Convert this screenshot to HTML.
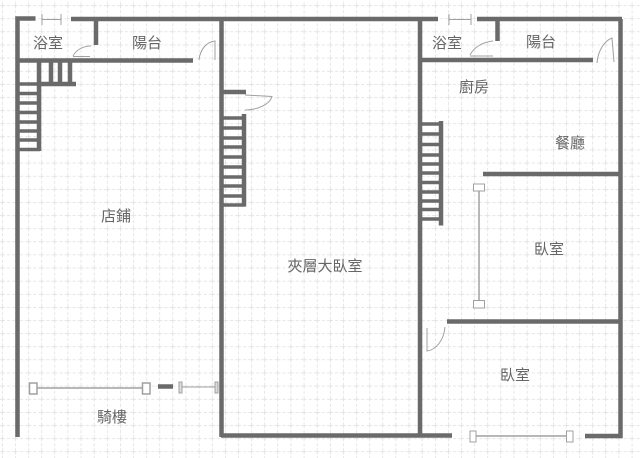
<!DOCTYPE html>
<html><head><meta charset="utf-8">
<style>
html,body{margin:0;padding:0;background:#fff;width:640px;height:458px;overflow:hidden}
svg{display:block}
text{font-family:"Liberation Sans","Noto Sans CJK TC",sans-serif;font-size:15px;fill:#666;text-anchor:middle}
</style></head><body>
<svg width="640" height="458" viewBox="0 0 640 458" xmlns="http://www.w3.org/2000/svg">
<defs>
<pattern id="g" x="2" y="5.3" width="13.12" height="13.12" patternUnits="userSpaceOnUse">
<path d="M0 0H13.12M0 0V13.12" stroke="#d6d6d6" stroke-width="1.2" stroke-dasharray="3 2" fill="none"/>
</pattern>
<filter id="b" x="0" y="0" width="100%" height="100%"><feGaussianBlur stdDeviation="0.35"/></filter>
</defs>
<g filter="url(#b)">
<rect width="640" height="458" fill="#fff"/>
<rect width="640" height="458" fill="url(#g)"/>
<g fill="none" stroke="#6a6a6a" stroke-width="4.500">
<path d="M35.500 18.500H17.500V437"/>
<path d="M71 19H438M477 19H622"/>
<path d="M96 19V45"/>
<path d="M17 60.500H193"/>
<path d="M39 60V151M51 60V85M60 60V85M70 60V85M40 84H76"/>
<path stroke-width="3.500" d="M18 84H40M18 93.500H40M18 103H40M18 112.500H40M18 122H40M18 131H40M18 140H40M18 149.500H40"/>
<path d="M221.500 19V437M420 19V437"/>
<path d="M221 435.500H452M585 436H620.500V19"/>
<path d="M222 92H246"/>
<path d="M244 114V206.500"/>
<path stroke-width="3.500" d="M222 118H245M222 128H245M222 138H245M222 147H245M222 157H245M222 167H245M222 177H245M222 186H245M222 196H245M222 205H245"/>
<path d="M441 121V225.500"/>
<path stroke-width="3.500" d="M420 124H441M420 134H441M420 144.500H441M420 155H441M420 164H441M420 173H441M420 182.500H441M420 192H441M420 201H441M420 209.500H441M420 219H441"/>
<path d="M497.500 19V41"/>
<path d="M420 60H593"/>
<path d="M483 174H620M447 321.500H620"/>
<path d="M158 386.500H173"/>
</g>
<g fill="none" stroke="#a0a0a0" stroke-width="1">
<path d="M42 14V25M61 14V25M42 19.500H61"/>
<path d="M73 56.500H90M73 56C76 50 83 46 91 46"/>
<path d="M199 60C200 50 206 42 215 41L215 60"/>
<path d="M449 14V25M471 14V25M449 19.500H471"/>
<path d="M470 56H493M470 55C474 47 483 42 493 41"/>
<path d="M597 63C598 51 604 41 612 38L614 62"/>
<path d="M245 95L272 96.500C270 104 258 110 245 110"/>
<path d="M427 328V351C436 350 444 340 445 327"/>
<path stroke-width="1.500" d="M479 191V300"/>
<rect x="473.500" y="184" width="11" height="7" fill="#fff"/>
<rect x="473.500" y="300.500" width="11" height="7.500" fill="#fff"/>
<path stroke-width="1.500" d="M476 436H567"/>
<rect x="470" y="431" width="6" height="11" fill="#fff"/>
<rect x="566.500" y="431" width="6.500" height="11" fill="#fff"/>
<path stroke-width="1.500" d="M37 388H142"/>
<rect x="29.500" y="383" width="7.500" height="11" fill="#fff" stroke-width="1.500"/>
<rect x="142.500" y="383" width="7.500" height="11" fill="#fff" stroke-width="1.500"/>
<path d="M181 387H216"/>
<rect x="179" y="382" width="3" height="11" fill="#ddd"/>
<rect x="215" y="382" width="3" height="11" fill="#ddd"/>
</g>
<text x="48" y="48">浴室</text>
<text x="147" y="48">陽台</text>
<text x="116" y="221">店鋪</text>
<text x="112" y="422">騎樓</text>
<text x="325" y="271">夾層大臥室</text>
<text x="447" y="48">浴室</text>
<text x="541" y="47">陽台</text>
<text x="474" y="92">廚房</text>
<text x="570" y="148">餐廳</text>
<text x="549" y="254">臥室</text>
<text x="515" y="380">臥室</text>
</g>
</svg>
</body></html>
